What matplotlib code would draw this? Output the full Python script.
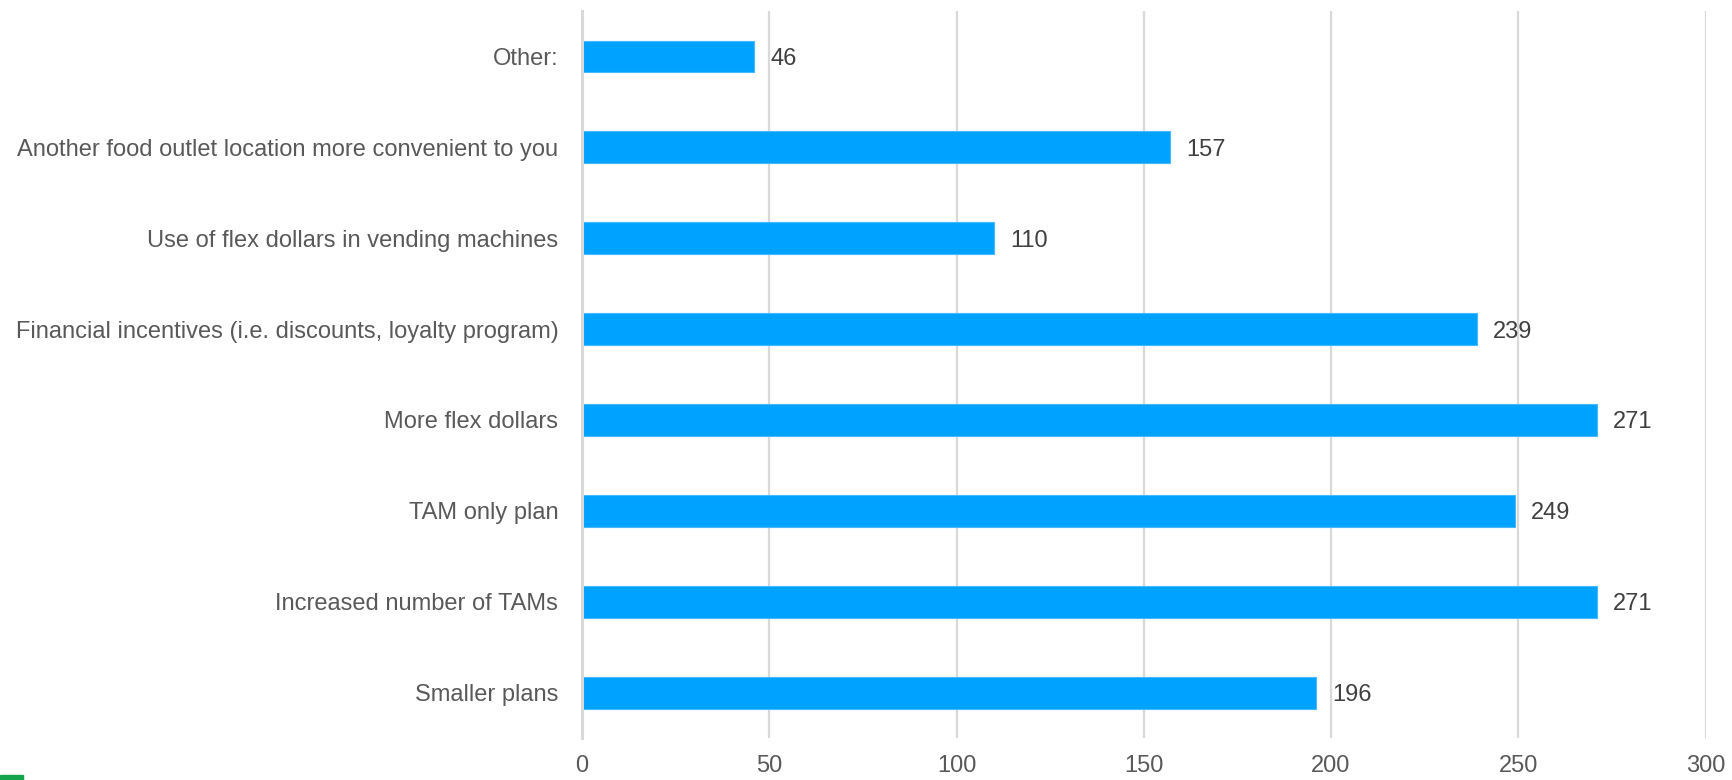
import matplotlib.pyplot as plt
import numpy as np

# survey responses, bottom to top
categories = ["Smaller plans", "Increased number of TAMs", "TAM only plan",
              "More flex dollars",
              "Financial incentives (i.e. discounts, loyalty program)",
              "Use of flex dollars in vending machines",
              "Another food outlet location more convenient to you",
              "Other:"]
counts = [196, 271, 249, 271, 239, 110, 157, 46]
xticks = [0, 50, 100, 150, 200, 250, 300]

plt.rcParams['font.family'] = ['Liberation Sans', 'DejaVu Sans']

fig = plt.figure(figsize=(17.33, 7.80), dpi=100)
ax = fig.add_axes([0.3358, 0.0538, 0.6484, 0.9321])

y = np.arange(len(categories))
ax.barh(y, counts, height=0.35, color='#00A2FF', edgecolor='#45B8FF',
        linewidth=0.8, zorder=3)

for yi, v in zip(y, counts):
    ax.text(v + 4.3, yi, str(v), va='center_baseline', ha='left',
            fontsize=17, color='#404040')

ax.set_xlim(0, 300)
ax.set_ylim(-0.5, len(categories) - 0.5)
ax.set_xticks(xticks)
ax.set_yticks(y)
ax.set_yticklabels(categories)
ax.tick_params(axis='y', length=0, pad=17, labelsize=17, labelcolor='#595959')
ax.tick_params(axis='x', length=0, pad=12, labelsize=17, labelcolor='#595959')

ax.grid(axis='x', color='#D9D9D9', linewidth=1.6, zorder=0)
for s in ['top', 'right', 'bottom']:
    ax.spines[s].set_visible(False)
ax.spines['left'].set_color('#D9D9D9')
ax.spines['left'].set_linewidth(2.2)
ax.spines['left'].set_zorder(4)

# small green marker in the lower-left corner
fig.patches.append(plt.Rectangle((0, 0), 23 / 1733, 5 / 780,
                                 transform=fig.transFigure,
                                 color='#14A44C', zorder=5))

fig.savefig('out.png', dpi=100)
